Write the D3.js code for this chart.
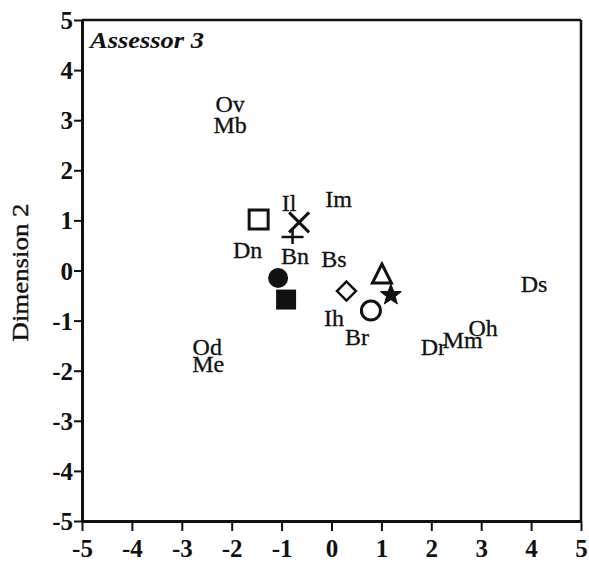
<!DOCTYPE html>
<html>
<head>
<meta charset="utf-8">
<script src="https://cdn.jsdelivr.net/npm/d3@7"></script>
<style>
  html, body { margin: 0; padding: 0; background: #fff; }
  svg { display: block; }
  svg text { font-family: "Liberation Serif", "Times New Roman", Times, serif; fill: #111; }
</style>
</head>
<body>
<svg id="chart" width="589" height="564"></svg>
<script>
// Assessor 3 — two-dimensional configuration of samples and attribute terms
const ticks = [-5, -4, -3, -2, -1, 0, 1, 2, 3, 4, 5];

// Sample positions (symbols)
const sampleShapes = ["openSquare", "cross", "plus", "filledCircle", "filledSquare", "diamond", "triangle", "star", "openCircle"];
const sampleX = [-1.46, -0.65, -0.78, -1.07, -0.91, 0.30, 1.01, 1.19, 0.79];
const sampleY = [1.02, 0.96, 0.67, -0.15, -0.58, -0.41, -0.07, -0.49, -0.80];

// Attribute term positions (text)
const termNames = ["Ov", "Mb", "Il", "Im", "Dn", "Bn", "Bs", "Ih", "Br", "Dr", "Mm", "Oh", "Ds", "Od", "Me"];
const termX = [-2.03, -2.03, -0.85, 0.14, -1.68, -0.73, 0.05, 0.05, 0.51, 2.04, 2.63, 3.04, 4.06, -2.49, -2.47];
const termY = [3.32, 2.90, 1.34, 1.42, 0.41, 0.29, 0.23, -0.94, -1.32, -1.52, -1.39, -1.14, -0.27, -1.53, -1.87];

const serif = "'Liberation Serif', 'Times New Roman', Times, serif";
const svg = d3.select("#chart");
const plotLeft = 82, plotRight = 581, plotTop = 20, plotBottom = 521;

const x = d3.scaleLinear().domain([-5, 5]).range([plotLeft, plotRight]);
const y = d3.scaleLinear().domain([-5, 5]).range([plotBottom, plotTop]);

// Frame: top and right edges
svg.append("line").attr("x1", plotLeft).attr("x2", plotRight).attr("y1", plotTop).attr("y2", plotTop)
  .attr("stroke", "#111").attr("stroke-width", 2.5);
svg.append("line").attr("x1", plotRight).attr("x2", plotRight).attr("y1", plotTop).attr("y2", plotBottom)
  .attr("stroke", "#111").attr("stroke-width", 2.5);

function styleTickText(sel) {
  sel.style("font-family", serif)
    .style("font-size", "25px")
    .style("font-weight", "bold")
    .style("fill", "#111");
}

// Left axis
const yAxis = svg.append("g").attr("transform", `translate(${plotLeft},0)`)
  .call(d3.axisLeft(y).tickValues(ticks).tickSize(8).tickSizeOuter(0).tickFormat(d => String(d)));
yAxis.select(".domain").attr("stroke", "#111").attr("stroke-width", 3);
yAxis.selectAll(".tick line").attr("stroke", "#111").attr("stroke-width", 2);
yAxis.selectAll(".tick text").attr("x", -9).attr("dy", "0.34em").call(styleTickText);

// Bottom axis
const xAxis = svg.append("g").attr("transform", `translate(0,${plotBottom})`)
  .call(d3.axisBottom(x).tickValues(ticks).tickSize(10).tickSizeOuter(0).tickFormat(d => String(d)));
xAxis.select(".domain").attr("stroke", "#111").attr("stroke-width", 3);
xAxis.selectAll(".tick line").attr("stroke", "#111").attr("stroke-width", 2);
xAxis.selectAll(".tick text").attr("y", 36).attr("dy", 0).call(styleTickText);

// Axis title
svg.append("text")
  .attr("transform", `translate(28,${(plotTop + plotBottom) / 2 + 2}) rotate(-90)`)
  .attr("text-anchor", "middle")
  .attr("textLength", 138).attr("lengthAdjust", "spacingAndGlyphs")
  .attr("stroke", "#111").attr("stroke-width", 0.4)
  .style("font-family", serif)
  .style("font-size", "24px")
  .text("Dimension 2");

// Panel title
svg.append("text")
  .attr("x", 90).attr("y", 48)
  .attr("textLength", 114).attr("lengthAdjust", "spacingAndGlyphs")
  .style("font-family", serif)
  .style("font-size", "24px").style("font-style", "italic").style("font-weight", "bold")
  .text("Assessor 3");

// Symbol drawing
function shapePath(kind) {
  const p = d3.path();
  switch (kind) {
    case "openSquare":
    case "filledSquare": { const h = kind === "openSquare" ? 9.5 : 10; p.rect(-h, -h, 2 * h, 2 * h); break; }
    case "cross": p.moveTo(-10, -10); p.lineTo(10, 10); p.moveTo(10, -10); p.lineTo(-10, 10); break;
    case "plus": p.moveTo(-11, 0); p.lineTo(11, 0); p.moveTo(0, -9); p.lineTo(0, 7); break;
    case "filledCircle": p.arc(0, 0, 10, 0, 2 * Math.PI); break;
    case "openCircle": p.arc(0, 0, 9.5, 0, 2 * Math.PI); break;
    case "diamond": p.moveTo(0, -9.5); p.lineTo(9.5, 0); p.lineTo(0, 9.5); p.lineTo(-9.5, 0); p.closePath(); break;
    case "triangle": p.moveTo(0, -10); p.lineTo(9.5, 9); p.lineTo(-9.5, 9); p.closePath(); break;
    case "star": {
      const ro = 11, ri = 4.6;
      for (let i = 0; i < 10; i++) {
        const r = i % 2 === 0 ? ro : ri;
        const a = -Math.PI / 2 + i * Math.PI / 5;
        if (i === 0) p.moveTo(r * Math.cos(a), r * Math.sin(a)); else p.lineTo(r * Math.cos(a), r * Math.sin(a));
      }
      p.closePath();
      break;
    }
  }
  return p.toString();
}
const filled = new Set(["filledCircle", "filledSquare", "star"]);
const strokeW = { openSquare: 3, cross: 3, plus: 2.5, openCircle: 3, diamond: 2.5, triangle: 3 };

svg.append("g").selectAll("path")
  .data(sampleShapes.map((s, i) => ({ s, vx: sampleX[i], vy: sampleY[i] })))
  .join("path")
  .attr("transform", d => `translate(${x(d.vx)},${y(d.vy)})`)
  .attr("d", d => shapePath(d.s))
  .attr("fill", d => filled.has(d.s) ? "#111" : "none")
  .attr("stroke", d => filled.has(d.s) ? (d.s === "star" ? "#111" : "none") : "#111")
  .attr("stroke-width", d => d.s === "star" ? 1 : (strokeW[d.s] || 0))
  .attr("stroke-linejoin", "miter");

// Term labels
svg.append("g").selectAll("text")
  .data(termNames.map((n, i) => ({ n, vx: termX[i], vy: termY[i] })))
  .join("text")
  .attr("x", d => x(d.vx)).attr("y", d => y(d.vy))
  .attr("dy", "0.33em")
  .attr("text-anchor", "middle")
  .attr("stroke", "#111").attr("stroke-width", 0.3)
  .style("font-family", serif)
  .style("font-size", "24px")
  .text(d => d.n);
</script>
</body>
</html>
